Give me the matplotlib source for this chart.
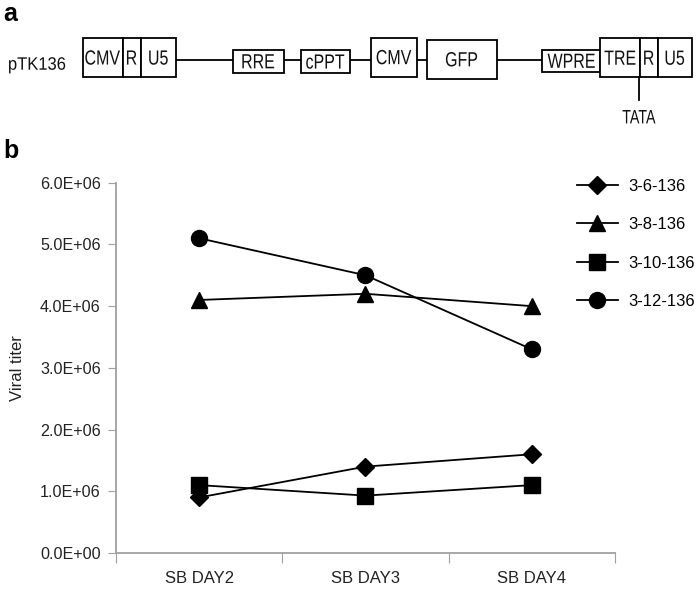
import numpy as np
import matplotlib.pyplot as plt
from matplotlib.patches import Rectangle, PathPatch
from matplotlib.textpath import TextPath
from matplotlib.font_manager import FontProperties
from matplotlib.transforms import Affine2D

plt.rcParams['font.family'] = ['Liberation Sans', 'DejaVu Sans']

# ------------------------------
# Data
# ------------------------------
days = ['SB DAY2', 'SB DAY3', 'SB DAY4']
series_names = ['3-6-136', '3-8-136', '3-10-136', '3-12-136']
titer_3_6 = [0.90e6, 1.40e6, 1.60e6]
titer_3_8 = [4.10e6, 4.20e6, 4.00e6]
titer_3_10 = [1.10e6, 0.93e6, 1.10e6]
titer_3_12 = [5.10e6, 4.50e6, 3.30e6]
markers = ['D', '^', 's', 'o']
y_ticks = [0, 1e6, 2e6, 3e6, 4e6, 5e6, 6e6]

# construct elements: (label, x0, x1, y0, y1) in figure pixels
elements = [
    ('CMV', 82.5, 122.8, 38, 77), ('R', 122.8, 140.6, 38, 77), ('U5', 140.6, 176.3, 38, 77),
    ('RRE', 233, 283.5, 49.5, 73), ('cPPT', 300.5, 350, 50, 73),
    ('CMV', 370.5, 417.4, 37.5, 76.7), ('GFP', 426.5, 496.5, 39.5, 79),
    ('WPRE', 542.4, 600, 50, 71.5),
    ('TRE', 600, 640, 38.3, 77), ('R', 640, 657.7, 38.3, 77), ('U5', 657.7, 692, 38.3, 77),
]

W, H = 700, 589
fig = plt.figure(figsize=(W / 100, H / 100), dpi=100)
FS = 12
FP = FontProperties(family='Liberation Sans')


def squeezed_text(ax, x, y, s, size, xscale=0.78, ha='center'):
    # text drawn as a path so it can be narrowed like the original figure
    tp = TextPath((0, 0), s, size=size, prop=FP)
    bb = tp.get_extents()
    cap = 0.69 * size
    x0 = -(bb.x0 + bb.width / 2) if ha == 'center' else -bb.x0
    tr = Affine2D().translate(x0, -cap / 2).scale(xscale, -1).translate(x, y)
    ax.add_patch(PathPatch(tr.transform_path(tp), facecolor='#111111',
                           edgecolor='none', lw=0, zorder=3))


# ------------------------------
# Panel a: vector map (pixel coordinates)
# ------------------------------
ax_a = fig.add_axes([0, 0, 1, 1])
ax_a.set_xlim(0, W)
ax_a.set_ylim(H, 0)
ax_a.axis('off')

ax_a.text(3, 21, 'a', fontsize=18, fontweight='bold', va='baseline', ha='left')
ax_a.text(3, 158, 'b', fontsize=18, fontweight='bold', va='baseline', ha='left')
squeezed_text(ax_a, 9, 63.5, 'pTK136', 18, xscale=0.92, ha='left')

ax_a.plot([176, 542], [60, 60], color='black', lw=1.3, zorder=1)
for label, x0, x1, y0, y1 in elements:
    ax_a.add_patch(Rectangle((x0, y0), x1 - x0, y1 - y0, facecolor='white',
                             edgecolor='black', lw=1.3, zorder=2))
    squeezed_text(ax_a, (x0 + x1) / 2, (y0 + y1) / 2, label, 20.5)
ax_a.plot([638.5, 638.5], [77, 100], color='black', lw=1.3)
squeezed_text(ax_a, 639, 116.7, 'TATA', 19.5, xscale=0.73)

# ------------------------------
# Panel b: viral titer
# ------------------------------
ax = fig.add_axes([116 / W, 1 - 553 / H, 499 / W, (553 - 182.7) / H])
x = np.arange(len(days))
sizes = [9, 11, 11, 11.5]
for name, vals, m, ms in zip(series_names,
                             [titer_3_6, titer_3_8, titer_3_10, titer_3_12],
                             markers, sizes):
    ax.plot(x, vals, color='black', lw=1.3, marker=m, markersize=ms,
            label=name, clip_on=False)

ax.set_xlim(-0.5, 2.5)
ax.set_ylim(0, 6e6)
ax.set_yticks(y_ticks)
ax.set_yticklabels([f'{v / 1e6:.1f}E+06' if v else '0.0E+00' for v in y_ticks])
ax.set_xticks([-0.5, 0.5, 1.5, 2.5])
ax.set_xticklabels([])
ax.set_xticks(x, minor=True)
ax.set_xticklabels(days, minor=True)
ax.tick_params(axis='x', which='major', length=7, color='#a0a0a0', direction='out')
ax.tick_params(axis='x', which='minor', length=0, pad=13, labelsize=FS, labelcolor='#222222')
ax.tick_params(axis='y', length=6, color='#a0a0a0', labelsize=11.6, labelcolor='#222222', pad=5)
for s in ['top', 'right']:
    ax.spines[s].set_visible(False)
for s in ['left', 'bottom']:
    ax.spines[s].set_color('#a0a0a0')
    ax.spines[s].set_linewidth(1.3)
ax.set_ylabel('Viral titer', fontsize=FS, color='#222222', labelpad=11)

fig.legend(*ax.get_legend_handles_labels(), loc='upper left',
           bbox_to_anchor=(577 / W, 1 - 179 / H), frameon=False,
           fontsize=FS, handlelength=2.45, labelspacing=1.4, handletextpad=0.6,
           borderaxespad=0, borderpad=0)

fig.savefig('out.png', dpi=100)
